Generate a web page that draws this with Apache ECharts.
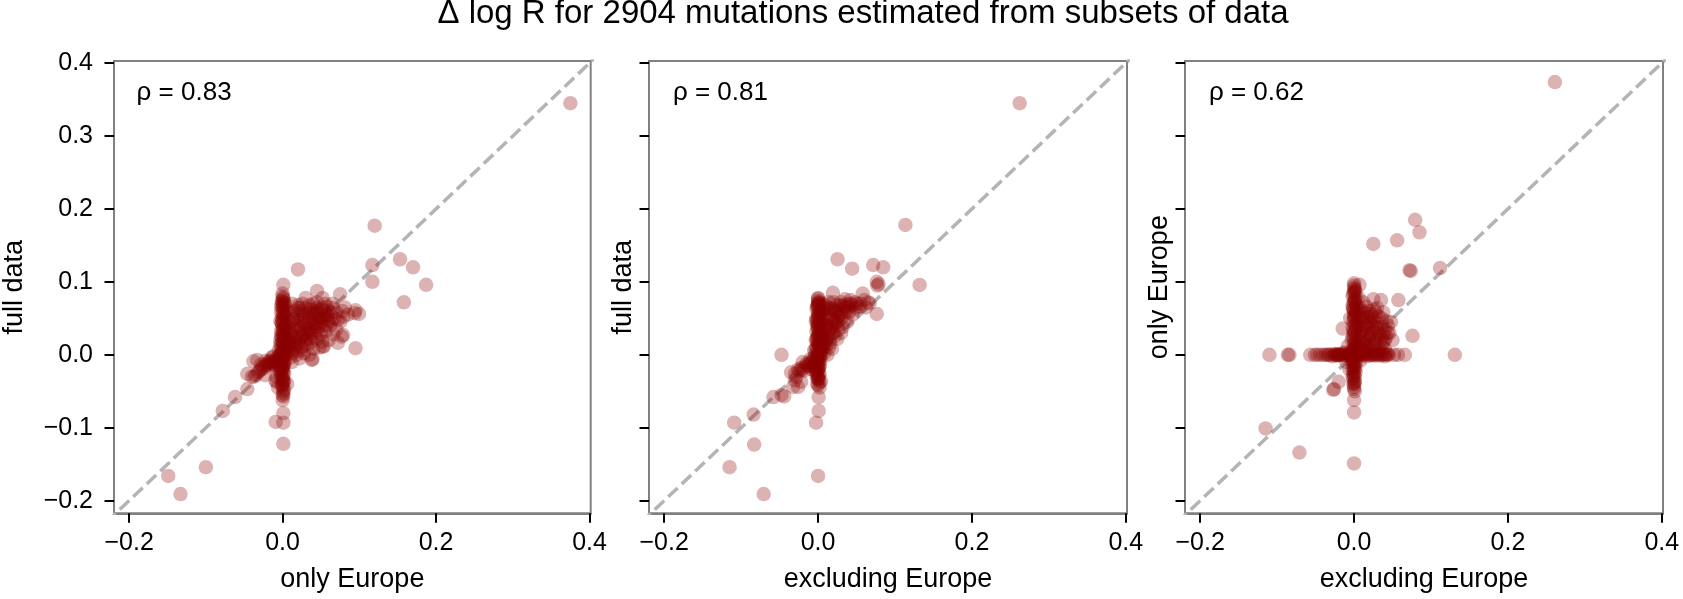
<!DOCTYPE html>
<html><head><meta charset="utf-8">
<script src="https://cdn.jsdelivr.net/npm/echarts@6/dist/echarts.min.js"></script>
<style>html,body{margin:0;padding:0;background:#fff}#c{width:1683px;height:599px}</style>
</head><body><div id="c"></div>
<script>
// ---------- text ----------
const chartTitle = 'Δ log R for 2904 mutations estimated from subsets of data';
const xNames = ['only Europe', 'excluding Europe', 'excluding Europe'];
const yNames = ['full data', 'full data', 'only Europe'];
const rhoLabels = ['ρ = 0.83', 'ρ = 0.81', 'ρ = 0.62'];
// ---------- axes ----------
const xTicks = [-0.2, 0.0, 0.2, 0.4];
const yTicks = [-0.2, -0.1, 0.0, 0.1, 0.2, 0.3, 0.4];
const xLimits = [-0.2197, 0.4015];
const yLimits = [-0.2173, 0.4028];
const diagLine = [[-0.3, -0.3], [0.5, 0.5]];
// ---------- data: [x, y] per mutation ----------
// panel 1: only Europe (x) vs full data (y)
const p1Outer = [
 [0.375,0.345],[0.120,0.177],[0.020,0.117],[0.117,0.123],[0.117,0.100],[0.153,0.131],[0.170,0.120],[0.187,0.096],[0.158,0.072],[0.095,0.009],[0.001,0.096],
 [-0.149,-0.166],[-0.133,-0.191],[-0.100,-0.154],[-0.078,-0.077],[-0.062,-0.058],[-0.046,-0.047],[-0.046,-0.026],[-0.037,-0.030],[-0.033,-0.007],
 [0.001,-0.122],[0.001,-0.080],[-0.009,-0.092],[0.001,-0.093],[0.001,-0.053],[0.001,-0.057],[0.000,-0.055],[0.001,-0.039],[-0.0095,-0.035],[-0.008,-0.037],
 [0.045,0.0875],[0.075,0.083],[0.081,0.065],[0.0996,0.056],[0.095,0.061],[0.094,0.057],[0.077,0.025],[0.072,0.0165],[0.054,0.012],[0.039,-0.006],
 [0.052,0.011],[0.079,0.027],[0.079,0.052],[0.038,-0.007],[-0.038,-0.009],[-0.023,-0.028]
];
const p1Core = [
 [0.000,0.080],[0.002,0.072],[-0.002,0.066],[0.001,0.060],[0.003,0.054],[-0.001,0.050],[0.002,0.045],[0.000,0.040],[0.004,0.036],[-0.002,0.032],
 [0.001,0.028],[0.003,0.024],[-0.003,0.020],[0.000,0.016],[0.005,0.013],[-0.002,0.010],[0.002,0.006],[0.000,0.003],[-0.004,0.000],[0.003,-0.003],
 [0.000,-0.006],[-0.002,-0.010],[0.002,-0.014],[0.000,-0.018],[-0.003,-0.022],[0.002,-0.026],[0.000,-0.030],[0.001,-0.034],[-0.001,-0.042],[0.002,-0.047],
 [0.000,-0.062],[0.001,0.076],[-0.001,0.070],[0.004,0.062],[0.000,0.056],[-0.003,0.046],[0.005,0.042],[0.001,0.034],[-0.001,0.024],[0.006,0.020],
 [0.002,0.012],[-0.005,0.006],[0.004,0.001],[-0.001,-0.004],[0.003,-0.008],[-0.004,-0.016],[0.001,-0.020],[-0.002,-0.028],[-0.008,-0.030],[0.006,-0.040],[-0.006,-0.045],
 [0.008,0.010],[0.012,0.018],[0.010,0.030],[0.015,0.008],[0.018,0.025],[0.020,0.040],[0.022,0.015],[0.025,0.030],[0.028,0.045],[0.030,0.020],
 [0.032,0.035],[0.035,0.050],[0.038,0.028],[0.040,0.042],[0.042,0.058],[0.045,0.035],[0.048,0.050],[0.050,0.062],[0.052,0.040],[0.055,0.055],
 [0.058,0.066],[0.060,0.045],[0.063,0.058],[0.015,0.050],[0.010,0.045],[0.020,0.055],[0.025,0.060],[0.030,0.064],[0.035,0.068],[0.045,0.072],
 [0.012,0.002],[0.018,0.005],[0.025,0.010],[0.032,0.012],[0.038,0.018],[0.045,0.022],[0.050,0.028],[0.056,0.032],[0.062,0.040],[0.068,0.050],
 [0.008,0.022],[0.014,0.035],[0.024,0.048],[0.034,0.058],[0.044,0.064],[0.016,0.060],[0.006,0.054],[0.020,0.068],[0.040,0.070],[0.055,0.070],
 [0.028,0.002],[0.040,0.008],[0.052,0.018],[0.070,0.035],[0.075,0.045],[0.066,0.028],[0.060,0.020],[0.048,0.010],[0.035,0.000],[0.022,-0.005],
 [0.012,-0.010],[0.085,0.055],[0.078,0.060],[0.065,0.070],[0.052,0.078],[0.030,0.078],[0.012,0.070],
 [-0.005,-0.002],[-0.008,-0.006],[-0.012,-0.008],[-0.015,-0.012],[-0.018,-0.010],[-0.020,-0.015],[-0.024,-0.018],[-0.028,-0.020],[-0.032,-0.024],
 [-0.035,-0.028],[-0.040,-0.030],[-0.010,-0.014],[-0.006,-0.020],[-0.014,-0.004],[-0.022,-0.008],[-0.028,-0.013]
];
const p1Dense = [
 [0.001,0.078],[-0.001,0.074],[0.002,0.068],[0.000,0.064],[-0.002,0.058],[0.002,0.052],[0.000,0.047],[-0.001,0.043],[0.003,0.038],[0.000,0.030],
 [-0.002,0.026],[0.002,0.022],[0.001,0.018],[-0.003,0.014],[0.003,0.008],[0.000,0.005],[-0.002,0.002],[0.001,-0.002],[-0.001,-0.008],[0.002,-0.012],
 [0.000,-0.016],[-0.002,-0.019],[0.001,-0.024],[-0.001,-0.032],[0.002,-0.036],[0.000,-0.040],[0.000,-0.044],[0.001,-0.050],[0.000,0.084],[0.003,0.070],
 [0.006,0.004],[0.010,0.008],[0.014,0.014],[0.018,0.018],[0.022,0.022],[0.026,0.026],[0.030,0.030],[0.034,0.034],[0.038,0.038],[0.042,0.042],
 [0.046,0.046],[0.050,0.050],[0.054,0.050],[0.058,0.054],[0.010,0.024],[0.016,0.040],[0.022,0.036],[0.028,0.052],[0.034,0.044],[0.040,0.056],
 [0.046,0.060],[0.052,0.064],[0.008,0.038],[0.012,0.058],[0.020,0.064],[0.026,0.070],[0.036,0.062],[0.060,0.060],[0.066,0.064],[0.070,0.058],
 [0.072,0.048],[0.064,0.046],[0.056,0.040],[0.048,0.030],[0.042,0.026],[0.036,0.022],[0.030,0.014],[0.024,0.006],[0.018,0.000],[0.010,-0.004],
 [-0.004,-0.004],[-0.010,-0.010],[-0.016,-0.008],[-0.020,-0.012],[-0.026,-0.016],[-0.030,-0.022],[-0.012,-0.002],[-0.006,-0.012]
];
const p1Center = [
 [0.000,0.066],[0.001,0.055],[-0.001,0.044],[0.000,0.035],[0.001,0.026],[-0.001,0.017],[0.000,0.008],[0.001,-0.001],[0.000,-0.011],[-0.001,-0.021],
 [0.000,-0.035],[0.000,0.072],[0.012,0.028],[0.016,0.022],[0.020,0.046],[0.024,0.036],[0.028,0.026],[0.030,0.040],[0.034,0.052],[0.036,0.032],
 [0.040,0.048],[0.044,0.038],[0.046,0.054],[0.050,0.044],[0.054,0.060],[0.026,0.056],[0.018,0.012],[0.008,0.016],[0.014,0.048],[0.006,0.030],
 [0.022,0.064],[0.040,0.062],[0.058,0.048],[0.032,0.022],[-0.006,-0.008],[-0.014,-0.012],[-0.022,-0.014]
];
// panel 2: excluding Europe (x) vs full data (y)
const p2Outer = [
 [0.262,0.345],[0.1135,0.178],[0.0253,0.131],[0.0443,0.118],[0.0717,0.123],[0.0847,0.120],[0.0763,0.100],[0.0787,0.097],[0.077,0.095],[0.132,0.0957],
 [0.0193,0.085],[0.058,0.084],[0.000,0.077],[0.0763,0.056],[0.067,0.0706],[-0.0475,0.000],[-0.035,-0.024],[-0.030,-0.035],[-0.022,-0.037],[-0.026,-0.044],
 [-0.058,-0.058],[-0.0475,-0.055],[-0.044,-0.057],[-0.0326,-0.044],[0.0008,-0.058],[0.0008,-0.077],[-0.0026,-0.093],[-0.0837,-0.082],[-0.109,-0.093],
 [-0.083,-0.123],[-0.115,-0.154],[-0.0707,-0.191],[0.000,-0.166]
];
const p2Core = [
 [0.000,0.074],[0.002,0.068],[-0.002,0.063],[0.001,0.058],[0.003,0.053],[-0.001,0.048],[0.002,0.044],[0.000,0.040],[0.004,0.036],[-0.002,0.032],
 [0.001,0.028],[0.003,0.024],[-0.003,0.020],[0.000,0.016],[0.005,0.013],[-0.002,0.010],[0.002,0.006],[0.000,0.003],[-0.004,0.000],[0.003,-0.003],
 [0.000,-0.006],[-0.002,-0.010],[0.002,-0.014],[0.000,-0.018],[-0.003,-0.022],[0.002,-0.026],[0.000,-0.030],[0.001,-0.034],[-0.001,-0.040],[0.002,-0.045],
 [0.001,0.071],[-0.001,0.066],[0.004,0.060],[0.000,0.052],[-0.003,0.046],[0.005,0.041],[0.001,0.034],[-0.001,0.024],[0.006,0.020],[0.002,0.012],
 [-0.005,0.006],[0.004,0.001],[-0.001,-0.004],[0.003,-0.008],[-0.004,-0.016],[0.001,-0.020],[-0.002,-0.028],[0.004,-0.036],
 [0.005,0.005],[0.010,0.012],[0.008,0.025],[0.015,0.020],[0.012,0.040],[0.020,0.030],[0.018,0.050],[0.025,0.040],[0.022,0.060],[0.030,0.050],
 [0.028,0.068],[0.035,0.058],[0.040,0.065],[0.038,0.045],[0.045,0.055],[0.050,0.065],[0.048,0.072],[0.055,0.070],[0.060,0.075],[0.010,0.055],
 [0.015,0.065],[0.005,0.045],[0.005,0.030],[0.030,0.030],[0.042,0.075],[0.035,0.076],[0.020,0.072],[0.062,0.065],[0.065,0.072],[0.025,0.022],
 [0.018,0.008],[0.012,0.000],[0.032,0.038],[0.008,0.018],[0.014,0.032],[0.022,0.045],[0.028,0.055],[0.010,0.068],
 [-0.005,-0.004],[-0.010,-0.006],[-0.015,-0.012],[-0.020,-0.010],[-0.022,-0.018],[-0.026,-0.020],[-0.030,-0.026],[-0.018,-0.022],[-0.012,-0.015],[-0.008,-0.020]
];
const p2Dense = [
 [0.001,0.072],[-0.001,0.068],[0.002,0.062],[0.000,0.056],[-0.002,0.050],[0.002,0.046],[0.000,0.042],[-0.001,0.038],[0.003,0.030],[0.000,0.026],
 [-0.002,0.022],[0.002,0.018],[0.001,0.014],[-0.003,0.008],[0.003,0.004],[0.000,0.000],[-0.002,-0.004],[0.001,-0.008],[-0.001,-0.012],[0.002,-0.016],
 [0.000,-0.020],[-0.002,-0.024],[0.001,-0.028],[-0.001,-0.032],[0.002,-0.038],[0.000,-0.042],[0.000,0.078],
 [0.006,0.010],[0.010,0.020],[0.014,0.028],[0.018,0.036],[0.022,0.044],[0.026,0.052],[0.030,0.058],[0.034,0.064],[0.038,0.070],[0.044,0.068],
 [0.008,0.034],[0.012,0.048],[0.016,0.056],[0.020,0.062],[0.024,0.068],[0.030,0.072],[0.050,0.070],[0.006,0.060],[0.006,0.070],[0.014,0.072],
 [0.016,0.016],[0.022,0.026],[0.026,0.034],[0.034,0.048],[0.040,0.058],[0.046,0.062],[0.054,0.066],[0.004,0.020],[0.008,0.002],[0.014,0.010],
 [-0.004,-0.008],[-0.010,-0.010],[-0.016,-0.016],[-0.024,-0.022],[-0.028,-0.030],[-0.006,-0.016]
];
const p2Center = [
 [0.000,0.066],[0.001,0.055],[-0.001,0.044],[0.000,0.035],[0.001,0.026],[-0.001,0.017],[0.000,0.008],[0.001,-0.001],[0.000,-0.011],[-0.001,-0.021],
 [0.000,-0.033],[0.000,0.070],[0.008,0.014],[0.012,0.024],[0.016,0.036],[0.010,0.040],[0.020,0.048],[0.024,0.058],[0.018,0.064],[0.028,0.062],
 [0.032,0.068],[0.036,0.066],[0.042,0.070],[0.012,0.062],[0.006,0.050],[0.020,0.040],[0.026,0.046],[0.008,0.064],[-0.008,-0.010],[-0.014,-0.014],[-0.020,-0.020]
];
// panel 3: excluding Europe (x) vs only Europe (y)
const p3Outer = [
 [0.261,0.374],[0.0794,0.185],[0.085,0.168],[0.056,0.157],[0.025,0.152],[0.0737,0.115],[0.072,0.116],[0.1117,0.119],[0.076,0.026],[-0.0147,0.036],
 [0.025,0.076],[0.035,0.075],[0.0576,0.075],[0.000,0.098],[0.007,0.096],[-0.020,-0.037],[-0.026,-0.047],[-0.027,-0.048],[0.000,-0.062],[0.000,-0.079],
 [-0.071,-0.134],[0.000,-0.149],[-0.115,-0.101],[-0.110,0.000],[-0.084,0.000],[-0.086,0.000],[0.131,0.000],[0.066,0.000],[0.045,0.000],[-0.057,0.000],
 [-0.051,0.000],[-0.044,0.000],[-0.033,0.000],[-0.020,0.000],[-0.040,0.000],[-0.048,0.000],[0.057,0.000],[0.052,0.000],[-0.037,0.000],[-0.024,0.000]
];
const p3Core = [
 [0.000,0.092],[0.002,0.086],[-0.002,0.080],[0.001,0.074],[0.003,0.068],[-0.001,0.062],[0.002,0.056],[0.000,0.050],[0.004,0.044],[-0.002,0.038],
 [0.001,0.032],[0.003,0.026],[-0.003,0.020],[0.000,0.014],[0.004,0.009],[-0.002,0.004],[0.001,-0.004],[-0.003,-0.008],[0.002,-0.012],[0.000,-0.016],
 [-0.002,-0.020],[0.002,-0.024],[0.000,-0.028],[-0.001,-0.033],[0.001,-0.038],[0.000,-0.044],[0.001,0.088],[-0.001,0.070],[0.000,0.060],[0.002,0.040],
 [-0.001,0.028],[0.001,0.016],[0.000,0.000],[-0.001,-0.026],[0.001,-0.050],
 [-0.030,0.000],[-0.026,0.001],[-0.022,-0.001],[-0.018,0.000],[-0.014,0.002],[-0.010,-0.001],[-0.006,0.000],[0.006,0.001],[0.010,-0.001],[0.014,0.000],
 [0.018,0.002],[0.022,-0.001],[0.026,0.000],[0.030,0.001],[0.034,-0.001],[0.038,0.000],[0.042,0.000],[-0.028,-0.002],[-0.012,0.003],[0.016,-0.002],[0.032,0.002],
 [0.006,0.008],[0.010,0.014],[0.008,0.024],[0.014,0.006],[0.016,0.020],[0.012,0.034],[0.020,0.012],[0.022,0.028],[0.018,0.044],[0.026,0.018],
 [0.028,0.036],[0.024,0.052],[0.032,0.010],[0.034,0.026],[0.030,0.044],[0.038,0.018],[0.040,0.034],[0.036,0.050],[0.042,0.024],[0.010,0.048],
 [0.014,0.058],[0.020,0.060],[0.028,0.058],[0.006,0.040],[0.044,0.040],[0.040,0.008],[0.008,0.064],[0.016,0.066],
 [0.046,0.030],[0.050,0.020],[0.048,0.045],[0.038,0.058],[0.030,0.064],[-0.008,0.012],[-0.010,-0.010],[-0.006,-0.020],[0.008,-0.008],[-0.005,0.050],[0.006,0.078],[0.012,0.072]
];
const p3Dense = [
 [0.001,0.090],[-0.001,0.084],[0.002,0.078],[0.000,0.072],[-0.002,0.066],[0.002,0.058],[0.000,0.054],[-0.001,0.046],[0.003,0.036],[0.000,0.030],
 [-0.002,0.024],[0.002,0.018],[0.001,0.012],[-0.003,0.006],[0.003,0.002],[0.000,-0.002],[-0.002,-0.006],[0.001,-0.010],[-0.001,-0.014],[0.002,-0.018],
 [0.000,-0.022],[-0.002,-0.030],[0.001,-0.036],[-0.001,-0.040],[0.000,-0.047],[0.000,0.095],
 [-0.024,0.000],[-0.020,0.001],[-0.016,-0.001],[-0.008,0.001],[-0.004,-0.002],[0.004,-0.001],[0.008,0.002],[0.012,0.001],[0.020,0.000],[0.024,0.002],
 [0.028,-0.001],[0.036,0.001],[0.040,-0.002],[0.044,0.001],[-0.034,0.000],
 [0.004,0.012],[0.008,0.018],[0.012,0.026],[0.016,0.030],[0.020,0.036],[0.024,0.040],[0.026,0.046],[0.018,0.052],[0.012,0.042],[0.008,0.032],
 [0.010,0.006],[0.018,0.008],[0.024,0.012],[0.028,0.022],[0.032,0.030],[0.036,0.038],[0.032,0.052],[0.022,0.056],[0.012,0.052],[0.006,0.050],
 [0.036,0.014],[0.040,0.020],[0.044,0.030],[0.042,0.046],[0.026,0.062],[0.010,0.060],[0.004,0.064],[0.020,0.022],[0.030,0.006],[0.016,0.012]
];
const p3Center = [
 [0.000,0.086],[0.001,0.076],[-0.001,0.064],[0.000,0.052],[0.001,0.042],[-0.001,0.034],[0.000,0.022],[0.001,0.010],[0.000,0.003],[-0.001,-0.010],
 [0.000,-0.018],[0.001,-0.030],[0.000,-0.040],[-0.020,0.000],[-0.012,0.000],[-0.006,0.001],[0.008,0.000],[0.016,0.001],[0.024,0.000],[0.032,0.000],
 [0.040,0.001],[0.008,0.010],[0.014,0.016],[0.020,0.026],[0.026,0.032],[0.016,0.040],[0.010,0.030],[0.022,0.046],[0.030,0.038],[0.034,0.020],
 [0.028,0.014],[0.014,0.050],[0.006,0.058],[0.020,0.006],[0.038,0.028]
];
const panelData = [
  p1Outer.concat(p1Core, p1Dense, p1Center),
  p2Outer.concat(p2Core, p2Dense, p2Center),
  p3Outer.concat(p3Core, p3Dense, p3Center)
];

// ---------- layout / style ----------
const gridLefts = [112.7, 649, 1185];
const gridTop = 61, gridW = 478, gridH = 452.3;
const FONT = '"Liberation Sans", Arial, Helvetica, sans-serif';
const fmt = v => (v < 0 ? '\u2212' : '') + Math.abs(v).toFixed(1);

const grids = [], xAxes = [], yAxes = [], series = [], graphics = [];
for (let i = 0; i < 3; i++) {
  grids.push({ left: gridLefts[i], top: gridTop, width: gridW, height: gridH, show: true,
    borderColor: '#808080', borderWidth: 2, backgroundColor: 'transparent' });
  xAxes.push({ type: 'value', gridIndex: i, min: xLimits[0], max: xLimits[1],
    name: xNames[i], nameLocation: 'middle', nameGap: 53,
    nameTextStyle: { fontFamily: FONT, fontSize: 27, color: '#000' },
    axisLine: { show: true, onZero: false, lineStyle: { color: '#808080', width: 2 } },
    axisTick: { show: true, length: 9.5, customValues: xTicks, lineStyle: { color: '#000', width: 2 } },
    axisLabel: { show: true, customValues: xTicks, margin: 17, formatter: fmt,
      fontFamily: FONT, fontSize: 25, color: '#000' },
    splitLine: { show: false } });
  yAxes.push({ type: 'value', gridIndex: i, min: yLimits[0], max: yLimits[1],
    name: yNames[i], nameLocation: 'middle', nameGap: i === 0 ? 86 : 12, nameRotate: 90,
    nameTextStyle: { fontFamily: FONT, fontSize: 27, color: '#000' },
    axisLine: { show: true, onZero: false, lineStyle: { color: '#808080', width: 2 } },
    axisTick: { show: true, length: 9.5, customValues: yTicks, lineStyle: { color: '#000', width: 2 } },
    axisLabel: { show: i === 0, customValues: yTicks, margin: 21, formatter: fmt,
      fontFamily: FONT, fontSize: 25, color: '#000' },
    splitLine: { show: false } });
  series.push({ type: 'line', xAxisIndex: i, yAxisIndex: i, data: diagLine, symbol: 'none',
    silent: true, z: 1, clip: true,
    lineStyle: { color: '#b4b4b4', width: 3.5, type: [13, 5.6] } });
  series.push({ type: 'scatter', xAxisIndex: i, yAxisIndex: i, data: panelData[i], symbolSize: 14.5,
    z: 2, clip: true,
    itemStyle: { color: '#8b0000', opacity: 0.3, borderWidth: 0 } });
  graphics.push({ type: 'text', x: gridLefts[i] + 0.05 * gridW, y: 80, silent: true,
    style: { text: rhoLabels[i], font: '26px ' + FONT, fill: '#000',
      align: 'left', verticalAlign: 'top', textAlign: 'left', textVerticalAlign: 'top' } });
}
graphics.push({ type: 'text', x: 863, y: -3, silent: true,
  style: { text: chartTitle, font: '33px ' + FONT, fill: '#000',
    align: 'center', verticalAlign: 'top', textAlign: 'center', textVerticalAlign: 'top' } });

const chart = echarts.init(document.getElementById('c'), null, { renderer: 'canvas' });
chart.setOption({ animation: false, backgroundColor: '#fff', grid: grids, xAxis: xAxes, yAxis: yAxes,
  series: series, graphic: graphics });
</script></body></html>
